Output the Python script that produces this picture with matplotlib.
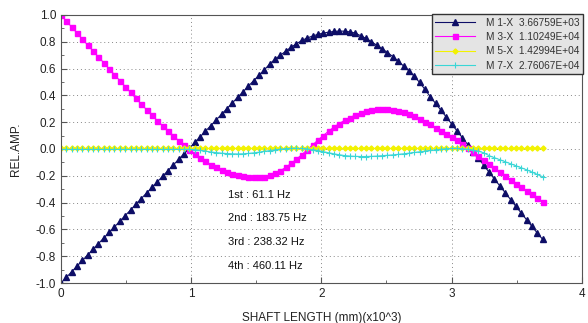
import numpy as np
import matplotlib
matplotlib.use('Agg')
import matplotlib.pyplot as plt
from matplotlib.ticker import MultipleLocator

plt.rcParams['font.family'] = ['Liberation Sans', 'DejaVu Sans']

# posiciones a lo largo del eje (x10^3 mm)
x = np.linspace(0, 3.70, 91)

m1 = [-1.000, -0.958, -0.916, -0.874, -0.832, -0.790, -0.748, -0.706, -0.664, -0.623,
      -0.581, -0.539, -0.497, -0.455, -0.412, -0.370, -0.328, -0.287, -0.245, -0.203,
      -0.161, -0.119, -0.077, -0.035, 0.007, 0.049, 0.091, 0.133, 0.175, 0.217,
      0.259, 0.301, 0.343, 0.385, 0.426, 0.468, 0.510, 0.550, 0.590, 0.635,
      0.670, 0.700, 0.730, 0.760, 0.785, 0.810, 0.828, 0.843, 0.855, 0.865,
      0.872, 0.877, 0.880, 0.879, 0.874, 0.865, 0.845, 0.825, 0.800, 0.775,
      0.748, 0.720, 0.690, 0.656, 0.620, 0.583, 0.543, 0.497, 0.445, 0.390,
      0.340, 0.289, 0.238, 0.186, 0.135, 0.084, 0.033, -0.019, -0.070, -0.121,
      -0.174, -0.225, -0.275, -0.326, -0.377, -0.428, -0.478, -0.528, -0.578, -0.627,
      -0.674]

m3 = [1.000, 0.955, 0.910, 0.865, 0.820, 0.775, 0.731, 0.687, 0.643, 0.598,
      0.554, 0.510, 0.466, 0.422, 0.378, 0.335, 0.293, 0.252, 0.212, 0.173,
      0.135, 0.098, 0.062, 0.028, -0.005, -0.036, -0.065, -0.092, -0.116, -0.137,
      -0.155, -0.171, -0.184, -0.195, -0.203, -0.209, -0.212, -0.211, -0.206, -0.196,
      -0.182, -0.162, -0.137, -0.108, -0.076, -0.042, -0.006, 0.030, 0.066, 0.100,
      0.133, 0.163, 0.190, 0.214, 0.235, 0.253, 0.268, 0.280, 0.289, 0.295,
      0.298, 0.297, 0.293, 0.285, 0.274, 0.260, 0.243, 0.224, 0.205, 0.183,
      0.160, 0.138, 0.115, 0.090, 0.065, 0.038, 0.010, -0.020, -0.052, -0.084,
      -0.115, -0.145, -0.175, -0.204, -0.231, -0.258, -0.285, -0.312, -0.339, -0.366,
      -0.393]

m5 = [0.005, 0.005, 0.005, 0.005, 0.005, 0.005, 0.005, 0.005, 0.005, 0.005,
      0.005, 0.005, 0.005, 0.005, 0.005, 0.005, 0.005, 0.005, 0.005, 0.005,
      0.005, 0.005, 0.005, 0.005, 0.005, 0.005, 0.005, 0.005, 0.005, 0.005,
      0.005, 0.005, 0.005, 0.005, 0.005, 0.005, 0.005, 0.005, 0.005, 0.005,
      0.005, 0.005, 0.005, 0.005, 0.005, 0.005, 0.005, 0.005, 0.005, 0.005,
      0.005, 0.005, 0.005, 0.005, 0.005, 0.005, 0.005, 0.005, 0.005, 0.005,
      0.005, 0.005, 0.005, 0.005, 0.005, 0.005, 0.005, 0.005, 0.005, 0.005,
      0.005, 0.005, 0.005, 0.005, 0.005, 0.005, 0.005, 0.005, 0.005, 0.005,
      0.005, 0.005, 0.005, 0.005, 0.005, 0.005, 0.005, 0.005, 0.005, 0.005,
      0.005]

m7 = [-0.003, -0.003, -0.003, -0.003, -0.003, -0.003, -0.003, -0.003, -0.003, -0.003,
      -0.003, -0.003, -0.003, -0.003, -0.003, -0.003, -0.003, -0.003, -0.003, -0.003,
      -0.003, -0.003, -0.003, -0.003, -0.002, -0.005, -0.010, -0.016, -0.022, -0.027,
      -0.031, -0.034, -0.036, -0.037, -0.036, -0.033, -0.029, -0.024, -0.018, -0.012,
      -0.006, -0.001, 0.003, 0.005, 0.005, 0.004, 0.001, -0.005, -0.012, -0.020,
      -0.028, -0.036, -0.043, -0.049, -0.053, -0.055, -0.056, -0.056, -0.055, -0.053,
      -0.050, -0.047, -0.044, -0.040, -0.036, -0.031, -0.026, -0.021, -0.016, -0.011,
      -0.006, -0.002, 0.002, 0.004, 0.004, 0.002, -0.002, -0.008, -0.017, -0.028,
      -0.050, -0.065, -0.080, -0.095, -0.110, -0.125, -0.140, -0.155, -0.172, -0.190,
      -0.207]

etiquetas = ['M 1-X  3.66759E+03', 'M 3-X  1.10249E+04',
             'M 5-X  1.42994E+04', 'M 7-X  2.76067E+04']
frecuencias = ['1st : 61.1 Hz', '2nd : 183.75 Hz', '3rd : 238.32 Hz', '4th : 460.11 Hz']

fig = plt.figure(figsize=(5.88, 3.23), dpi=100)
ax = fig.add_axes([0.1037, 0.1238, 0.8856, 0.8298])

ax.plot(x, m1, color='#0d0d66', lw=0.8, marker='^', ms=4, label=etiquetas[0])
ax.plot(x, m3, color='#ff00ff', lw=0.8, marker='s', ms=3.6, label=etiquetas[1])
ax.plot(x, m5, color='#f2f200', lw=0.8, marker='D', ms=2.6, label=etiquetas[2])
ax.plot(x, m7, color='#3ad6d6', lw=0.8, marker='+', ms=5, mew=0.8, label=etiquetas[3])

ax.set_xlim(0, 4)
ax.set_ylim(-1.0, 1.0)
ax.xaxis.set_major_locator(MultipleLocator(1))
ax.xaxis.set_minor_locator(MultipleLocator(0.5))
ax.yaxis.set_major_locator(MultipleLocator(0.2))
ax.yaxis.set_minor_locator(MultipleLocator(0.1))
ax.set_yticklabels(['%.1f' % v for v in ax.get_yticks()])
ax.tick_params(which='both', direction='in', colors='#555555', labelcolor='#222222', labelsize=8.5)
ax.tick_params(which='major', length=4)
ax.tick_params(which='minor', length=2.5)
ax.grid(True, which='major', linestyle=(0, (1, 3)), color='#888888', lw=0.7)
for s in ax.spines.values():
    s.set_color('#555555')
    s.set_linewidth(0.8)

ax.set_xlabel('SHAFT LENGTH (mm)(x10^3)', fontsize=8.5, color='#222222', labelpad=9)
ax.set_ylabel('REL.AMP.', fontsize=8.5, color='#222222', labelpad=10)

ypos = [-0.343, -0.515, -0.694, -0.873]
for t, yy in zip(frecuencias, ypos):
    ax.text(1.28, yy, t, fontsize=8, color='#111111', va='center', ha='left')

leg = ax.legend(loc='upper right', bbox_to_anchor=(1.003, 1.003), fontsize=7.3,
                frameon=True, fancybox=False, handlelength=3.9, handletextpad=1.1,
                borderpad=0.35, labelspacing=0.42, borderaxespad=0)
leg.get_frame().set_facecolor('#e4e4e4')
leg.get_frame().set_edgecolor('#333333')
leg.get_frame().set_alpha(1)
for t in leg.get_texts():
    t.set_color('#333333')

fig.savefig('out.png', dpi=100)
